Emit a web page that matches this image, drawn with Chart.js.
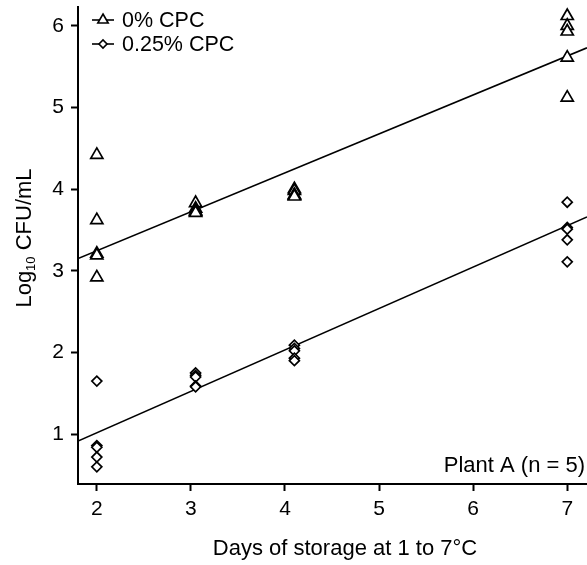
<!DOCTYPE html>
<html>
<head>
<meta charset="utf-8">
<script src="https://cdn.jsdelivr.net/npm/chart.js@4"></script>
<style>
  html, body { margin: 0; padding: 0; background: #fff; }
  #wrap { width: 587px; height: 565px; position: relative; }
</style>
</head>
<body>
<div id="wrap"><canvas id="cfuChart"></canvas></div>
<script>
// days at which samples were taken (x positions of each cluster)
const storageDays = [2, 3.05, 4.1, 7];

// log10 CFU/mL per day, 0% CPC (triangles)
const cpc0Day2 = [4.42, 3.62, 3.21, 3.19, 2.92];
const cpc0Day3 = [3.83, 3.76, 3.73, 3.72, 3.71];
const cpc0Day4 = [4.00, 3.98, 3.93, 3.92, 3.91];
const cpc0Day7 = [6.12, 6.00, 5.93, 5.61, 5.12];

// log10 CFU/mL per day, 0.25% CPC (diamonds)
const cpc25Day2 = [1.65, 0.86, 0.84, 0.72, 0.60];
const cpc25Day3 = [1.75, 1.72, 1.70, 1.59, 1.58];
const cpc25Day4 = [2.09, 2.05, 2.02, 1.93, 1.90];
const cpc25Day7 = [3.84, 3.53, 3.51, 3.38, 3.11];

// regression lines, read at the left and right edges of the plot
const fitX = [1.8, 7.21];
const fitCpc0 = [3.15, 5.73];
const fitCpc25 = [0.915, 3.66];

const xTicks = [2, 3, 4, 5, 6, 7];
const yTicks = [1, 2, 3, 4, 5, 6];

const seriesLabels = ['0% CPC', '0.25% CPC'];
const xTitle = 'Days of storage at 1 to 7°C';
const note = 'Plant A (n = 5)';

const FONT = '"Liberation Sans", Arial, sans-serif';

const toPoints = (groups) => {
    const pts = [];
    groups.forEach((vals, i) => vals.forEach(v => pts.push({ x: storageDays[i], y: v })));
    return pts;
};
const toLine = (ys) => ys.map((y, i) => ({ x: fitX[i], y: y }));

const markerTri = { pointStyle: 'triangle', radius: 7, borderWidth: 1.7 };
const markerDia = { pointStyle: 'rectRot', radius: 5, borderWidth: 1.7 };

// legend, axis titles and the note, drawn on the canvas
const annotations = {
    id: 'annotations',
    afterDraw(chart) {
        const ctx = chart.ctx;
        const area = chart.chartArea;
        ctx.save();
        ctx.fillStyle = '#000';
        ctx.strokeStyle = '#000';

        // legend
        const markers = [markerTri, markerDia];
        seriesLabels.forEach((lab, i) => {
            const cy = 20 + i * 24;
            ctx.lineWidth = 1.6;
            ctx.beginPath();
            ctx.moveTo(area.left + 14, cy);
            ctx.lineTo(area.left + 36, cy);
            ctx.stroke();
            ctx.fillStyle = '#fff';
            Chart.helpers.drawPoint(ctx, { ...markers[i], radius: markers[i].radius - 1, rotation: 0 }, area.left + 25, cy);
            ctx.fillStyle = '#000';
            ctx.font = '21.5px ' + FONT;
            ctx.textBaseline = 'alphabetic';
            ctx.textAlign = 'left';
            ctx.fillText(lab, area.left + 44, cy + 7);
        });

        // note, bottom right
        ctx.font = '22px ' + FONT;
        ctx.textAlign = 'right';
        ctx.fillText(note, area.right - 2, area.bottom - 12);

        // x title
        ctx.textAlign = 'center';
        ctx.fillText(xTitle, 345, 555);

        // y title with subscript
        ctx.translate(31, 238);
        ctx.rotate(-Math.PI / 2);
        const big = '22px ' + FONT, small = '13px ' + FONT;
        ctx.font = big;
        const wLog = ctx.measureText('Log').width;
        const wRest = ctx.measureText(' CFU/mL').width;
        ctx.font = small;
        const wSub = ctx.measureText('10').width;
        let x = -(wLog + wSub + wRest) / 2;
        ctx.textAlign = 'left';
        ctx.font = big;
        ctx.fillText('Log', x, 0);
        x += wLog;
        ctx.font = small;
        ctx.fillText('10', x, 4);
        x += wSub;
        ctx.font = big;
        ctx.fillText(' CFU/mL', x, 0);
        ctx.restore();
    }
};

const axisCommon = {
    type: 'linear',
    grid: { drawOnChartArea: false, drawTicks: true, tickLength: 7, tickWidth: 2, tickColor: '#000' },
    border: { display: true, color: '#000', width: 2 },
    ticks: { color: '#000', font: { family: FONT, size: 21 } }
};

// keep the plot area where the reference has it: no extra room for end labels
const noEdgePadding = s => { s.paddingTop = 0; s.paddingBottom = 0; s.paddingLeft = 0; s.paddingRight = 0; };

new Chart(document.getElementById('cfuChart').getContext('2d'), {
    type: 'scatter',
    data: {
        datasets: [
            {
                label: seriesLabels[0],
                data: toPoints([cpc0Day2, cpc0Day3, cpc0Day4, cpc0Day7]),
                pointStyle: 'triangle',
                pointRadius: markerTri.radius,
                pointBorderWidth: markerTri.borderWidth,
                borderColor: '#000',
                backgroundColor: '#fff'
            },
            {
                label: seriesLabels[1],
                data: toPoints([cpc25Day2, cpc25Day3, cpc25Day4, cpc25Day7]),
                pointStyle: 'rectRot',
                pointRadius: markerDia.radius,
                pointBorderWidth: markerDia.borderWidth,
                borderColor: '#000',
                backgroundColor: '#fff'
            },
            {
                label: 'fit 0%',
                data: toLine(fitCpc0),
                showLine: true, pointRadius: 0, borderColor: '#000', borderWidth: 1.6
            },
            {
                label: 'fit 0.25%',
                data: toLine(fitCpc25),
                showLine: true, pointRadius: 0, borderColor: '#000', borderWidth: 1.6
            }
        ]
    },
    options: {
        responsive: true,
        maintainAspectRatio: false,
        animation: false,
        events: [],
        // autoPadding off, otherwise the marker size adds a margin on the right
        layout: { autoPadding: false, padding: { top: 7, right: 0, left: 0, bottom: 0 } },
        plugins: { legend: { display: false }, tooltip: { enabled: false } },
        scales: {
            x: {
                ...axisCommon,
                min: 1.8, max: 7.21,
                ticks: { ...axisCommon.ticks, padding: 6 },
                afterBuildTicks: s => { s.ticks = xTicks.map(v => ({ value: v })); },
                afterFit: s => { s.height = 81; noEdgePadding(s); }
            },
            y: {
                ...axisCommon,
                min: 0.39, max: 6.23,
                ticks: { ...axisCommon.ticks, padding: 7 },
                afterBuildTicks: s => { s.ticks = yTicks.map(v => ({ value: v })); },
                afterFit: s => { s.width = 78; noEdgePadding(s); }
            }
        }
    },
    plugins: [annotations]
});
</script>
</body>
</html>
